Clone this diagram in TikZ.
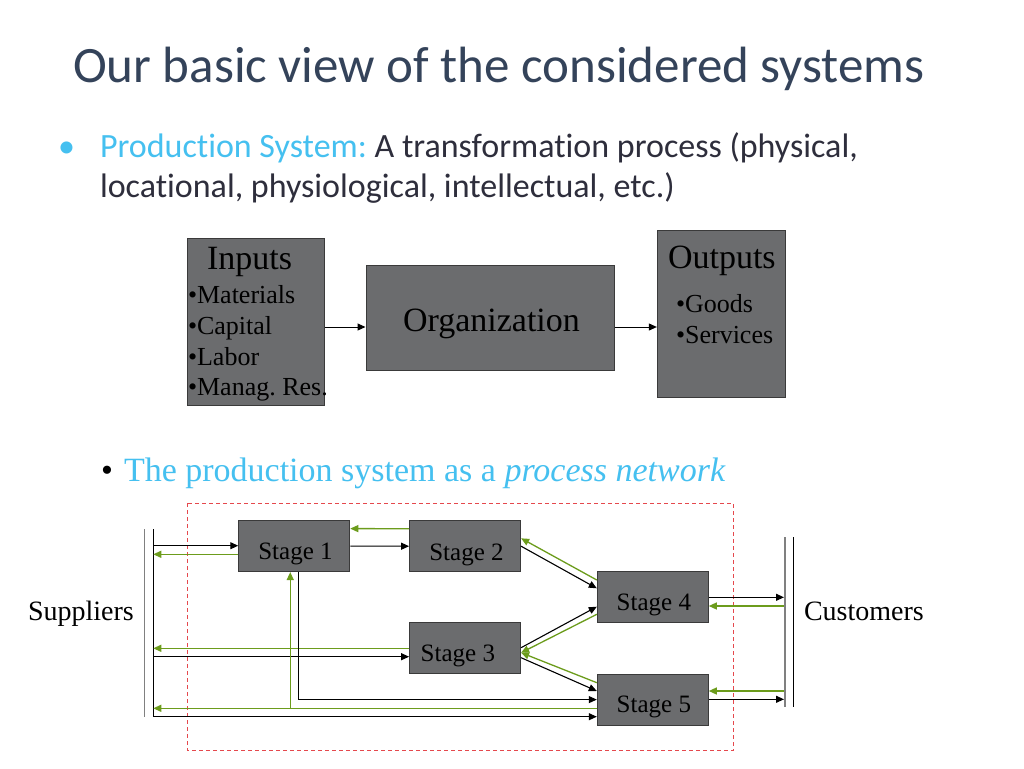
\documentclass[tikz,border=0pt]{standalone}
\usepackage{fontspec}
\setmainfont{Liberation Serif}
\newfontfamily\calibri[Ligatures=NoCommon]{Carlito}
\usetikzlibrary{arrows.meta,calc}
\definecolor{titleblue}{HTML}{34435A}
\definecolor{bodydark}{HTML}{2E2E3C}
\definecolor{lcyan}{HTML}{45C0F0}
\definecolor{boxgray}{HTML}{6B6C6E}
\definecolor{boxedge}{HTML}{3A3A3A}
\definecolor{lgreen}{HTML}{6C9C1C}
\definecolor{dashred}{HTML}{E5484D}
\definecolor{bargray}{HTML}{808080}
\frenchspacing
\begin{document}
\begin{tikzpicture}[x=1pt,y=-1pt,
  txt/.style={inner sep=0pt, outer sep=0pt},
  gbox/.style={draw=boxedge, fill=boxgray, line width=1pt, inner sep=0pt},
  stagebox/.style={gbox, minimum width=111pt, minimum height=51pt},
  blk/.style={draw=black, line width=1.1pt, -{Triangle[length=8pt,width=7pt]}},
  grn/.style={draw=lgreen, line width=1.3pt, -{Triangle[length=8pt,width=7pt]}},
  stagetxt/.style={txt, anchor=base west, font=\fontsize{25}{30}\selectfont}
]
\path[use as bounding box, fill=white] (0,0) rectangle (1024,768);

% title and first bullet
\node[txt, anchor=base west, font=\calibri\fontsize{51}{58}\selectfont, text=titleblue] (title) at (73,82) {Our basic view of the considered systems};
\node[txt, anchor=base west, font=\calibri\fontsize{34}{40}\selectfont, text=lcyan] (b1) at (58,157) {•};
\node[txt, anchor=base west, font=\calibri\fontsize{34}{40}\selectfont, text=bodydark] (l1) at (100,157) {\textcolor{lcyan}{Production System:} A transformation process (physical,};
\node[txt, anchor=base west, font=\calibri\fontsize{34}{40}\selectfont, text=bodydark] (l2) at (100,197) {locational, physiological, intellectual, etc.)};

% upper block diagram
\node[gbox, minimum width=137pt, minimum height=166.7pt] (inp) at (256,322.3) {};
\node[gbox, minimum width=248pt, minimum height=105.5pt] (org) at (490,318.2) {};
\node[gbox, minimum width=127.7pt, minimum height=167.3pt] (out) at (721.2,313.7) {};

\node[txt, anchor=base, font=\fontsize{34}{40}\selectfont] (inpt) at (249.5,269) {Inputs};
\node[txt, anchor=base west, font=\fontsize{26}{30}\selectfont] (i1) at (188,303.3) {•Materials};
\node[txt, anchor=base west, font=\fontsize{26}{30}\selectfont] (i2) at (188,334) {•Capital};
\node[txt, anchor=base west, font=\fontsize{26}{30}\selectfont] (i3) at (188,365) {•Labor};
\node[txt, anchor=base west, font=\fontsize{26}{30}\selectfont] (i4) at (188,395.7) {•Manag. Res.};
\node[txt, anchor=base west, font=\fontsize{34}{40}\selectfont] (orgt) at (403,331) {Organization};
\node[txt, anchor=base west, font=\fontsize{34}{40}\selectfont] (outt) at (668,268.3) {Outputs};
\node[txt, anchor=base west, font=\fontsize{26}{30}\selectfont] (o1) at (676,312.3) {•Goods};
\node[txt, anchor=base west, font=\fontsize{26}{30}\selectfont] (o2) at (676,343.3) {•Services};

\coordinate (a1) at (0,327);
\draw[blk, line width=1pt] (inp.east |- a1) -- (org.west |- a1);
\draw[blk, line width=1pt] (org.east |- a1) -- (out.west |- a1);

% second bullet
\node[txt, anchor=base west, font=\fontsize{34}{40}\selectfont] (b2) at (101,481) {•};
\node[txt, anchor=base west, font=\fontsize{34}{40}\selectfont, text=lcyan] (l3) at (124,481) {The production system as a \textit{process network}};

% dashed frame
\draw[dashred, line width=1pt, dash pattern=on 4pt off 3pt] (187.7,503.3) rectangle (733.3,750.7);

% stages
\node[stagebox] (s1) at (294.25,546.1) {};
\node[stagebox] (s2) at (465.1,546.2) {};
\node[stagebox] (s4) at (652.8,597.2) {};
\node[stagebox] (s3) at (465.1,648.3) {};
\node[stagebox] (s5) at (652.8,699.6) {};
\node[stagetxt] (s1t) at (258.3,559.3) {Stage 1};
\node[stagetxt] (s2t) at (429.3,560) {Stage 2};
\node[stagetxt] (s4t) at (616.7,610) {Stage 4};
\node[stagetxt] (s3t) at (420.7,661.7) {Stage 3};
\node[stagetxt] (s5t) at (616.7,712.3) {Stage 5};

% suppliers / customers
\node[txt, anchor=base west, font=\fontsize{28}{32}\selectfont] (sup) at (28,620) {Suppliers};
\node[txt, anchor=base west, font=\fontsize{28}{32}\selectfont] (cus) at (804,620) {Customers};
\coordinate (supTop) at (153.3,529);
\coordinate (supBot) at (153.3,716.7);
\draw[bargray, line width=1.3pt] (144.7,529) -- (144.7,716.7);
\draw[black, line width=1.1pt] (supTop) -- (supBot);
\coordinate (cusTop) at (785,537.3);
\coordinate (cusBot) at (785,707.3);
\draw[bargray, line width=1.3pt] (cusTop) -- (cusBot);
\draw[black, line width=1.1pt] (793.3,537.3) -- (793.3,707.3);

\coordinate (sp1) at (153.3,545.7);
\coordinate (sp2) at (153.3,554.3);
\coordinate (sp3) at (153.3,648.3);
\coordinate (sp4) at (153.3,656.7);
\coordinate (sp5) at (153.3,708.3);
\coordinate (cp1) at (784,597.3);
\coordinate (cp2) at (784,606);
\coordinate (cp3) at (784,691);
\coordinate (cp4) at (784,699.3);
\coordinate (s1bl) at ([xshift=-4pt]s1.south);
\coordinate (s1br) at ([xshift=4pt]s1.south);

% supplier connectors
\draw[blk] (sp1) -- (sp1 -| s1.west);
\draw[grn] (sp2 -| s1.west) -- (sp2);
\draw[grn] ([yshift=-8.5pt]s2.north west) -- ([yshift=-8.5pt]s1.north east);
\draw[blk] (s1.east) -- (s2.west);
\draw[grn] (sp3 -| s3.west) -- (sp3);
\draw[blk] (sp4) -- (sp4 -| s3.west);
\draw[blk] (s1br) |- (s5.west);
\draw[grn] (sp5 -| s5.west) -- (sp5);
\draw[grn] (s1bl |- sp5) -- (s1bl);
\draw[blk] (supBot) -- (supBot -| s5.west);

% stage to stage
\draw[blk] (s2.east) -- ([yshift=8.9pt]s4.west);
\draw[grn] ([yshift=17.2pt]s4.west) -- ([yshift=7.9pt]s2.east);
\draw[blk] ([yshift=0.6pt]s3.east) -- ([yshift=-9.5pt]s4.west);
\draw[grn] ([yshift=-17.1pt]s4.west) -- ([yshift=-4.4pt]s3.east);
\draw[grn] ([yshift=16.9pt]s5.west) -- ([yshift=-4.4pt]s3.east);
\draw[blk] ([yshift=-9.4pt]s3.east) -- ([yshift=8.6pt]s5.west);

% customer connectors
\draw[blk] (cp1 -| s4.east) -- (cp1);
\draw[grn] (cp2) -- (cp2 -| s4.east);
\draw[grn] (cp3) -- (cp3 -| s5.east);
\draw[blk] (cp4 -| s5.east) -- (cp4);
\end{tikzpicture}
\end{document}
